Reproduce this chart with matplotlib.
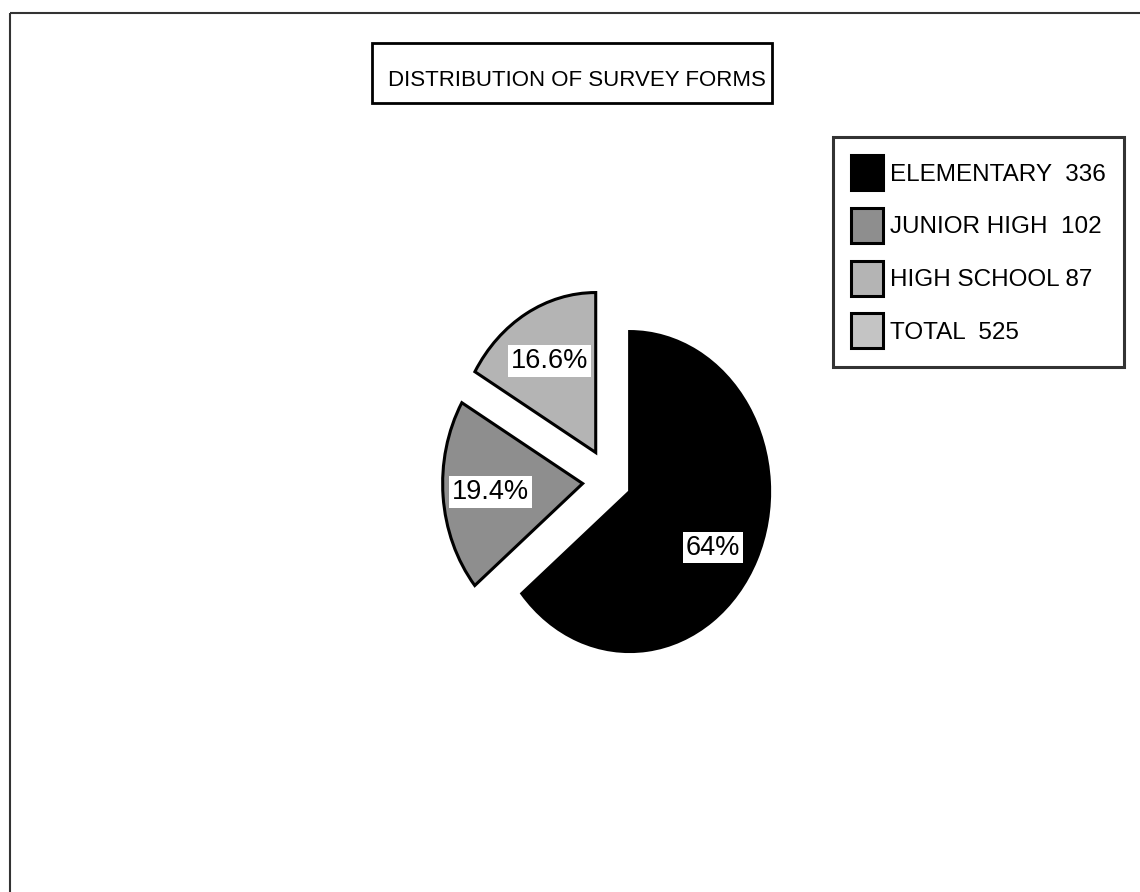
import matplotlib
matplotlib.use('Agg')
import matplotlib.pyplot as plt
from matplotlib.patches import Patch, Rectangle

plt.rcParams['font.family'] = ['Liberation Sans', 'DejaVu Sans']

# survey forms handed out per school level
levels = ['ELEMENTARY', 'JUNIOR HIGH', 'HIGH SCHOOL']
counts = [336, 102, 87]
total = 525
legend_labels = ['ELEMENTARY  336', 'JUNIOR HIGH  102', 'HIGH SCHOOL 87', 'TOTAL  525']
slice_colors = ['#000000', '#8e8e8e', '#b4b4b4']
total_color = '#c4c4c4'
explode = [0.155, 0.196, 0.205]

W, H = 1140, 892
fig = plt.figure(figsize=(W / 100, H / 100), dpi=100)


def fx(px):
    return px / W


def fy(py):
    return 1 - py / H


# page frame (left and top edges visible)
fig.add_artist(Rectangle((fx(10), fy(13)), 1.2, -1.2, transform=fig.transFigure,
                         fill=False, edgecolor='#333333', linewidth=1.5))

# pie axes: centre at (610, 481) px, 140 px per unit across, 160 px per unit down
cx, cy, sx, sy, span = 610, 481, 140, 160, 1.6
ax = fig.add_axes([fx(cx - sx * span), fy(cy + sy * span), 2 * sx * span / W, 2 * sy * span / H])


def fmt(pct):
    s = f'{pct:.1f}'
    if s.endswith('.0'):
        s = s[:-2]
    return s + '%'


wedges, texts, autotexts = ax.pie(
    counts, explode=explode, colors=slice_colors, startangle=90, counterclock=False,
    autopct=fmt, pctdistance=0.66,
    wedgeprops=dict(edgecolor='black', linewidth=2.2),
    textprops=dict(fontsize=19.5, color='black'))
for t in autotexts:
    t.set_bbox(dict(facecolor='white', edgecolor='none', pad=2))
# the big slice's label sits a little below its mid angle
autotexts[0].set_position((autotexts[0].get_position()[0], autotexts[0].get_position()[1] - 0.07))
ax.set_aspect('auto')
ax.set_xlim(-span, span)
ax.set_ylim(-span, span)
ax.axis('off')

# title box
fig.add_artist(Rectangle((fx(372), fy(103)), (772 - 372) / W, (103 - 43) / H,
                         transform=fig.transFigure, fill=False, edgecolor='black', linewidth=2))
fig.text(fx(388), fy(80), 'DISTRIBUTION OF SURVEY FORMS', fontsize=16,
         ha='left', va='center')

handles = list(wedges) + [Patch(facecolor=total_color, edgecolor='black', linewidth=2.2)]
leg = fig.legend(handles, legend_labels, loc='upper left',
                 bbox_to_anchor=(fx(833), fy(137)), bbox_transform=fig.transFigure,
                 fontsize=17.5, frameon=True, fancybox=False, shadow=False,
                 handlelength=1.3, handleheight=1.85, handletextpad=0.3,
                 labelspacing=0.72, borderpad=0.75, borderaxespad=0)
leg.get_frame().set_edgecolor('black')
leg.get_frame().set_linewidth(2.2)

fig.savefig('out.png', dpi=100, facecolor='white')
